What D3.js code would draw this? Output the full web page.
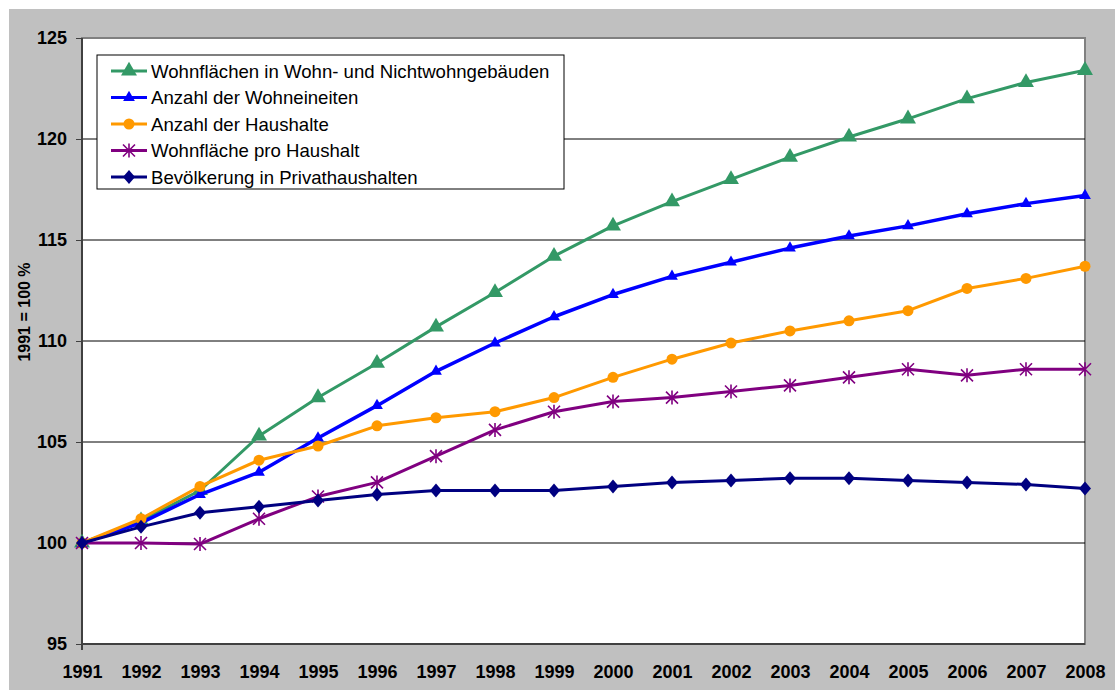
<!DOCTYPE html>
<html lang="de">
<head>
<meta charset="UTF-8">
<title>Wohnflächen, Wohneinheiten und Haushalte 1991-2008</title>
<script src="https://d3js.org/d3.v7.min.js"></script>
<style>
  body { margin: 0; background: #fff; }
  svg { display: block; }
</style>
</head>
<body>
<div id="chart"></div>
<script>
// Data (index, 1991 = 100)
const years = [1991, 1992, 1993, 1994, 1995, 1996, 1997, 1998, 1999, 2000, 2001, 2002, 2003, 2004, 2005, 2006, 2007, 2008];
const wohnflaechen = [100, 101.1, 102.6, 105.3, 107.2, 108.9, 110.7, 112.4, 114.2, 115.7, 116.9, 118.0, 119.1, 120.1, 121.0, 122.0, 122.8, 123.4];
const wohneinheiten = [100, 101.0, 102.4, 103.5, 105.2, 106.8, 108.5, 109.9, 111.2, 112.3, 113.2, 113.9, 114.6, 115.2, 115.7, 116.3, 116.8, 117.2];
const haushalte = [100, 101.2, 102.8, 104.1, 104.8, 105.8, 106.2, 106.5, 107.2, 108.2, 109.1, 109.9, 110.5, 111.0, 111.5, 112.6, 113.1, 113.7];
const flaecheProHaushalt = [100, 100.0, 99.95, 101.2, 102.3, 103.0, 104.3, 105.6, 106.5, 107.0, 107.2, 107.5, 107.8, 108.2, 108.6, 108.3, 108.6, 108.6];
const bevoelkerung = [100, 100.8, 101.5, 101.8, 102.1, 102.4, 102.6, 102.6, 102.6, 102.8, 103.0, 103.1, 103.2, 103.2, 103.1, 103.0, 102.9, 102.7];
const yTicks = [95, 100, 105, 110, 115, 120, 125];
const yLabel = "1991 = 100 %";

const series = [
  {name: "Wohnflächen in Wohn- und Nichtwohngebäuden", values: wohnflaechen, color: "#339966", marker: "bigTriangle", width: 3},
  {name: "Anzahl der Wohneineiten", values: wohneinheiten, color: "#0000ff", marker: "triangle", width: 3.5},
  {name: "Anzahl der Haushalte", values: haushalte, color: "#ff9900", marker: "circle", width: 3},
  {name: "Wohnfläche pro Haushalt", values: flaecheProHaushalt, color: "#800080", marker: "star", width: 3},
  {name: "Bevölkerung in Privathaushalten", values: bevoelkerung, color: "#000080", marker: "diamond", width: 3}
];

const FONT = "'Liberation Sans', Arial, sans-serif";
const W = 1115, H = 690;
const plot = {left: 82, right: 1085, top: 38, bottom: 644};

const svg = d3.select("#chart").append("svg")
  .attr("width", W).attr("height", H)
  .style("font-family", FONT);

// grey chart background
svg.append("rect").attr("x", 9).attr("y", 9).attr("width", W - 9).attr("height", H - 9)
  .attr("fill", "#c0c0c0");

// plot area
svg.append("rect")
  .attr("x", plot.left).attr("y", plot.top)
  .attr("width", plot.right - plot.left).attr("height", plot.bottom - plot.top)
  .attr("fill", "#fff").attr("stroke", "#808080").attr("stroke-width", 2);

const x = d3.scalePoint().domain(years).range([plot.left, plot.right]);
const y = d3.scaleLinear().domain([95, 125]).range([plot.bottom, plot.top]);

// gridlines
svg.append("g").selectAll("line")
  .data(yTicks.filter(t => t > 95 && t < 125))
  .join("line")
  .attr("x1", plot.left).attr("x2", plot.right)
  .attr("y1", d => y(d)).attr("y2", d => y(d))
  .attr("stroke", "#000").attr("stroke-width", 1);

function styleTicks(sel) {
  sel.selectAll(".tick text")
    .style("font-family", FONT)
    .style("font-size", "18px")
    .style("font-weight", "bold")
    .attr("fill", "#000");
}

// y axis
const yAxis = svg.append("g")
  .attr("transform", `translate(${plot.left},0)`)
  .call(d3.axisLeft(y).tickValues(yTicks).tickSize(6).tickPadding(9));
yAxis.select(".domain").remove();
yAxis.selectAll(".tick line").attr("stroke", "#404040");
styleTicks(yAxis);
svg.append("line")
  .attr("x1", plot.left).attr("x2", plot.left)
  .attr("y1", plot.top).attr("y2", plot.bottom + 6)
  .attr("stroke", "#404040").attr("stroke-width", 2);

// x axis
const xAxis = svg.append("g")
  .attr("transform", `translate(0,${plot.bottom})`)
  .call(d3.axisBottom(x).tickSize(0).tickPadding(21));
xAxis.select(".domain").remove();
styleTicks(xAxis);
svg.append("line")
  .attr("x1", plot.left).attr("x2", plot.right)
  .attr("y1", plot.bottom).attr("y2", plot.bottom)
  .attr("stroke", "#404040").attr("stroke-width", 2);

// y axis title
svg.append("text")
  .attr("transform", "translate(30,312) rotate(-90)")
  .attr("text-anchor", "middle")
  .style("font-weight", "bold").style("font-size", "16px")
  .text(yLabel);

// markers
function drawMarker(g, type, color) {
  if (type === "bigTriangle") {
    g.append("path").attr("d", d3.symbol(d3.symbolTriangle, 110)()).attr("fill", color);
  } else if (type === "triangle") {
    g.append("path").attr("d", d3.symbol(d3.symbolTriangle, 60)()).attr("fill", color);
  } else if (type === "circle") {
    g.append("circle").attr("r", 5.5).attr("fill", color);
  } else if (type === "diamond") {
    g.append("path").attr("d", "M0,-7L6,0L0,7L-6,0Z").attr("fill", color);
  } else if (type === "star") {
    g.append("path")
      .attr("d", "M-6,-6L6,6M-6,6L6,-6M0,-7L0,7")
      .attr("stroke", color).attr("stroke-width", 1.6).attr("fill", "none");
  }
}

const line = d3.line().x((d, i) => x(years[i])).y(d => y(d));

series.forEach(s => {
  svg.append("path")
    .datum(s.values)
    .attr("d", line)
    .attr("fill", "none")
    .attr("stroke", s.color)
    .attr("stroke-width", s.width)
    .attr("stroke-linejoin", "round");
  svg.append("g").selectAll("g")
    .data(s.values)
    .join("g")
    .attr("transform", (d, i) => `translate(${x(years[i])},${y(d)})`)
    .each(function () { drawMarker(d3.select(this), s.marker, s.color); });
});

// legend
const legend = svg.append("g");
legend.append("rect")
  .attr("x", 97).attr("y", 55).attr("width", 467).attr("height", 134)
  .attr("fill", "#fff").attr("stroke", "#000").attr("stroke-width", 1);

const legendRows = legend.selectAll("g.row")
  .data(series)
  .join("g")
  .attr("class", "row")
  .attr("transform", (d, i) => `translate(0,${71 + i * 26.5})`);

legendRows.append("line")
  .attr("x1", 111).attr("x2", 147)
  .attr("stroke", d => d.color).attr("stroke-width", 3);
legendRows.append("g")
  .attr("transform", "translate(129,0)")
  .each(function (d) { drawMarker(d3.select(this), d.marker, d.color); });
legendRows.append("text")
  .attr("x", 151).attr("dy", "0.35em")
  .style("font-size", "18.6px")
  .attr("fill", "#000")
  .text(d => d.name);
</script>
</body>
</html>
